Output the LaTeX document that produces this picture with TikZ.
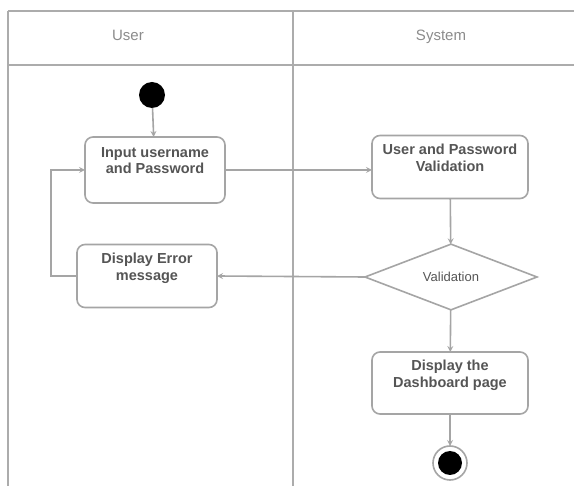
\documentclass[tikz,border=0pt]{standalone}
\usepackage{fontspec}
\setmainfont{Liberation Sans}
\usetikzlibrary{arrows,shapes.geometric}

\definecolor{lanegray}{RGB}{172,172,172}
\definecolor{boxgray}{RGB}{165,165,165}
\definecolor{txtgray}{RGB}{85,85,85}
\definecolor{headgray}{RGB}{140,140,140}

\begin{document}
\begin{tikzpicture}[x=1pt,y=-1pt,>=stealth,
    every node/.style={inner sep=0,outer sep=0},
    lane/.style={draw=lanegray,line width=2pt},
    head/.style={anchor=base,text=headgray,font=\fontsize{15}{17}\selectfont},
    act/.style={draw=boxgray,line width=1.6pt,rounded corners=8pt,fill=white,
        align=center,text=txtgray,font=\fontsize{14.5}{16.5}\selectfont\bfseries,
        text depth=19pt},
    decision/.style={diamond,draw=boxgray,line width=1.6pt,fill=white,
        minimum width=172pt,minimum height=65pt,text=txtgray,
        font=\fontsize{13}{15}\selectfont},
    flow/.style={draw=boxgray,line width=1.6pt,->}]
    \useasboundingbox (0,0) rectangle (574,486);
    \clip (0,0) rectangle (574,486);
    \fill[white] (0,0) rectangle (574,486);
    % swimlanes
    \draw[lane] (8,11) -- (600,11);
    \draw[lane] (8,65) -- (600,65);
    \draw[lane] (8,11) -- (8,500);
    \draw[lane] (293,11) -- (293,500);
    \node[head] (user) at (128,41) {User};
    \node[head] (system) at (441,41) {System};
    % activities
    \node[circle,fill=black,minimum size=26pt] (start) at (152,95) {};
    \node[act,minimum width=140pt,minimum height=66pt] (input) at (155,170)
        {Input username\\and Password};
    \node[act,minimum width=140pt,minimum height=63pt] (error) at (147,276)
        {Display Error\\message};
    \node[act,minimum width=156pt,minimum height=63pt] (check) at (450,167)
        {User and Password\\Validation};
    \node[decision] (valid) at (451,277) {Validation};
    \node[act,minimum width=156pt,minimum height=62pt] (dash) at (450,383)
        {Display the\\Dashboard page};
    \node[circle,draw=boxgray,line width=1.6pt,minimum size=34pt,
        path picture={\fill[black] (path picture bounding box.center) circle (12pt);}]
        (stop) at (450,463) {};
    % flows
    \draw[flow] (start) -- (input);
    \draw[flow] (input.east) -- (input.east -| check.west);
    \draw[flow] (check) -- (valid);
    \draw[flow] (valid.west) -- (error.east);
    \draw[flow] (valid) -- (dash);
    \draw[flow] (dash) -- (stop);
    \draw[flow] (error.west) -- ++(-26,0) |- (input.west);
\end{tikzpicture}
\end{document}
